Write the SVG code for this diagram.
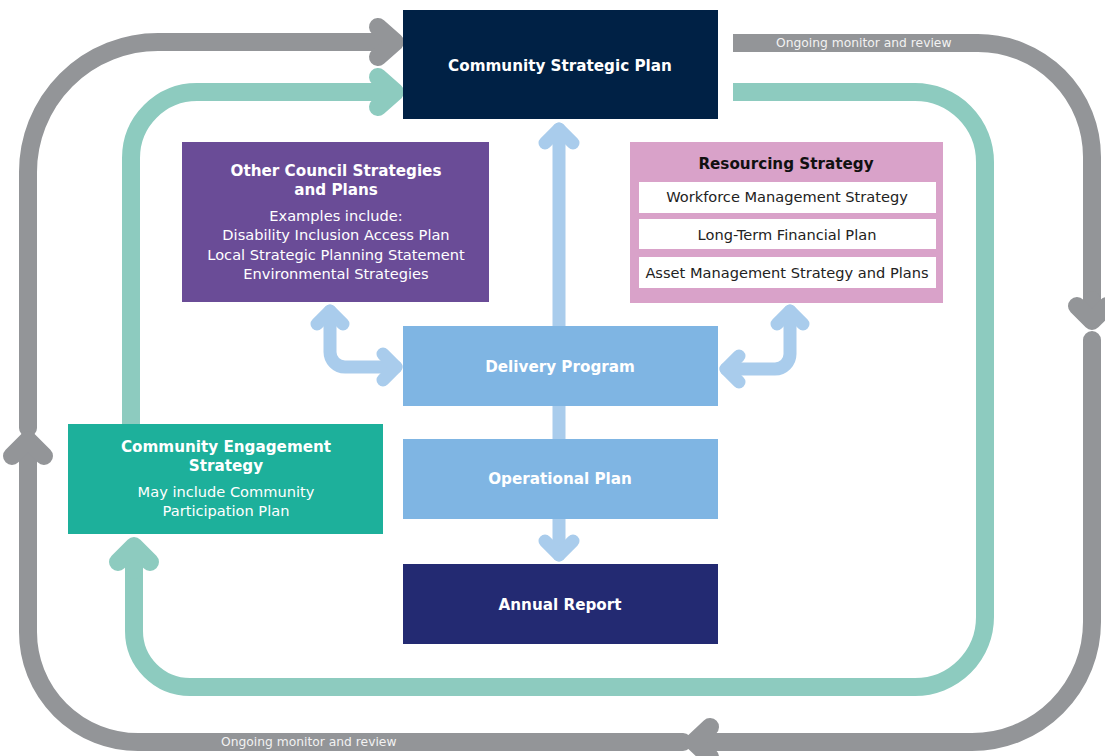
<svg xmlns="http://www.w3.org/2000/svg" width="1105" height="756" viewBox="0 0 1105 756">
<style>
.g{fill:none;stroke:#939598;stroke-width:18;stroke-linecap:round;stroke-linejoin:round}
.gb{fill:none;stroke:#939598;stroke-width:18;stroke-linecap:butt}
.t{fill:none;stroke:#8DCBBF;stroke-width:18;stroke-linecap:round;stroke-linejoin:round}
.tb{fill:none;stroke:#8DCBBF;stroke-width:18;stroke-linecap:butt}
.b{fill:none;stroke:#A9CCEC;stroke-width:13;stroke-linecap:round;stroke-linejoin:round}
text{font-family:"DejaVu Sans","Open Sans",sans-serif;text-anchor:middle}
.h{font-weight:700;font-size:15.2px;fill:#fff}
.r{font-size:14.6px;fill:#fff}
.k{font-size:14.6px;fill:#222}
.lbl{font-size:12.3px;fill:#f2f2f2;text-anchor:start}
</style>
<rect width="1105" height="756" fill="#fff"/>
<g id="connectors">
<path class="g" d="M28 428 L28 172 A130 130 0 0 1 158 42 L394 42"/>
<path class="g" d="M378 27 L395 42 L378 57"/>
<path class="g" d="M28 442 L28 632 A110 110 0 0 0 138 742 L683 742"/>
<path class="g" d="M12 456 L28 440 L44 456"/>
<path class="g" d="M695 742 L972 742 A120 120 0 0 0 1092 622 L1092 340"/>
<path class="g" d="M710 727 L694 742 L710 757"/>
<path class="gb" d="M733 43 L978 43 A114 114 0 0 1 1092 157 L1092 310"/>
<path class="g" d="M1092 300 L1092 320"/>
<path class="g" d="M1077 306 L1092 321 L1107 306"/>
<path class="t" d="M131 424 L131 158 A66 66 0 0 1 197 92 L394 92"/>
<path class="t" d="M378 77 L395 92 L378 107"/>
<path class="tb" d="M733 92 L915 92 A70 70 0 0 1 985 162 L985 617 A70 70 0 0 1 915 687 L190 687 A56 56 0 0 1 134 631 L134 560"/>
<path class="t" d="M134 570 L134 548"/>
<path class="t" d="M118 562 L134 546 L150 562"/>
<path class="b" d="M559 326 L559 129"/>
<path class="b" d="M545 143 L559 129 L573 143"/>
<path class="b" d="M559 406 L559 439"/>
<path class="b" d="M559 519 L559 555"/>
<path class="b" d="M545 541 L559 555 L573 541"/>
<path class="b" d="M330 311 L330 352 A15 15 0 0 0 345 367 L396 367"/>
<path class="b" d="M317 324 L330 311 L343 324"/>
<path class="b" d="M383 354 L396 367 L383 380"/>
<path class="b" d="M790 311 L790 354 A15 15 0 0 1 775 369 L726 369"/>
<path class="b" d="M777 324 L790 311 L803 324"/>
<path class="b" d="M739 356 L726 369 L739 382"/>
<text class="lbl" x="776" y="47">Ongoing monitor and review</text>
<text class="lbl" x="221" y="746">Ongoing monitor and review</text>
</g>
<g id="csp">
<rect x="403" y="10" width="315" height="109" fill="#002145"/>
<text class="h" x="560" y="71">Community Strategic Plan</text>
</g>
<g id="other">
<rect x="182" y="142" width="307" height="160" fill="#6A4C97"/>
<text class="h" x="336" y="176">Other Council Strategies</text>
<text class="h" x="336" y="195">and Plans</text>
<text class="r" x="336" y="221">Examples include:</text>
<text class="r" x="336" y="240">Disability Inclusion Access Plan</text>
<text class="r" x="336" y="260">Local Strategic Planning Statement</text>
<text class="r" x="336" y="279">Environmental Strategies</text>
</g>
<g id="resourcing">
<rect x="630" y="142" width="313" height="161" fill="#D9A2C9"/>
<text class="h" x="786" y="169" style="fill:#111">Resourcing Strategy</text>
<rect x="639" y="182" width="297" height="31" fill="#fff"/>
<text class="k" x="787" y="202">Workforce Management Strategy</text>
<rect x="639" y="219" width="297" height="30" fill="#fff"/>
<text class="k" x="787" y="240">Long-Term Financial Plan</text>
<rect x="639" y="257" width="297" height="31" fill="#fff"/>
<text class="k" x="787" y="278">Asset Management Strategy and Plans</text>
</g>
<g id="delivery">
<rect x="403" y="326" width="315" height="80" fill="#7FB5E3"/>
<text class="h" x="560" y="372">Delivery Program</text>
</g>
<g id="operational">
<rect x="403" y="439" width="315" height="80" fill="#7FB5E3"/>
<text class="h" x="560" y="484">Operational Plan</text>
</g>
<g id="annual">
<rect x="403" y="564" width="315" height="80" fill="#232A72"/>
<text class="h" x="560" y="610">Annual Report</text>
</g>
<g id="engagement">
<rect x="68" y="424" width="315" height="110" fill="#1DB09B"/>
<text class="h" x="226" y="452">Community Engagement</text>
<text class="h" x="226" y="471">Strategy</text>
<text class="r" x="226" y="497">May include Community</text>
<text class="r" x="226" y="516">Participation Plan</text>
</g>
</svg>
